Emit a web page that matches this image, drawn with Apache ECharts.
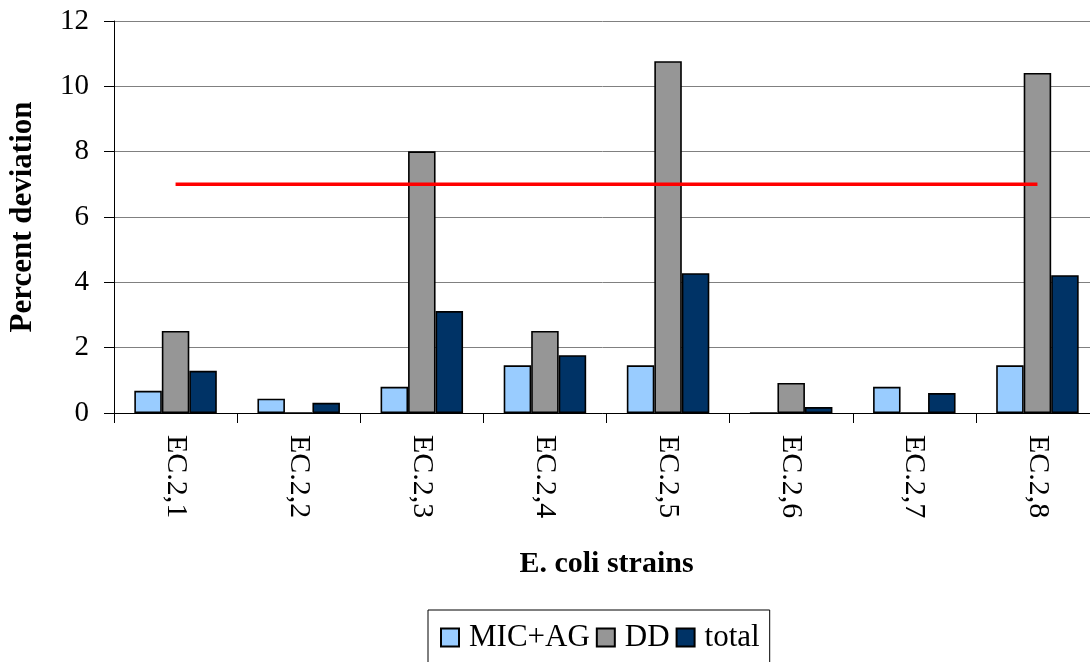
<!DOCTYPE html>
<html>
<head>
<meta charset="utf-8">
<script src="https://cdn.jsdelivr.net/npm/echarts@6/dist/echarts.min.js"></script>
<style>html,body{margin:0;padding:0;background:#fff;}#c{width:1090px;height:662px;}</style>
</head>
<body>
<div id="c"></div>
<script>
const categories = ['EC.2,1','EC.2,2','EC.2,3','EC.2,4','EC.2,5','EC.2,6','EC.2,7','EC.2,8'];
const micAg = [0.68, 0.44, 0.80, 1.46, 1.46, 0, 0.80, 1.46];
const dd = [2.51, 0, 8.01, 2.51, 10.77, 0.92, 0, 10.41];
const total = [1.29, 0.31, 3.12, 1.77, 4.28, 0.18, 0.61, 4.22];
const threshold = [7, 7, 7, 7, 7, 7, 7, 7];
const seriesNames = ['MIC+AG', 'DD', 'total'];

const font = "'Liberation Serif', 'Times New Roman', serif";
const chart = echarts.init(document.getElementById('c'));
const barStyle = (c) => ({ color: c, borderColor: '#000', borderWidth: 1.6 });
chart.setOption({
  animation: false,
  textStyle: { fontFamily: font, color: '#000' },
  grid: { left: 114, top: 21, width: 985, height: 392, outerBoundsMode: 'none', containLabel: false },
  legend: {
    data: seriesNames,
    left: 428, top: 610,
    padding: [12, 10, 24, 12],
    itemWidth: 18, itemHeight: 18, itemGap: 6,
    borderColor: '#000', borderWidth: 1,
    icon: 'rect',
    textStyle: { fontFamily: font, fontSize: 31, color: '#000', padding: [0, 0, 0, 5] }
  },
  xAxis: {
    type: 'category',
    data: categories,
    name: 'E. coli strains',
    nameLocation: 'middle',
    nameGap: 136,
    nameTextStyle: { fontFamily: font, fontSize: 30, fontWeight: 'bold', color: '#000' },
    axisLine: { lineStyle: { color: '#000', width: 1 } },
    axisTick: { show: true, length: 10, lineStyle: { color: '#000' } },
    axisLabel: { rotate: -90, margin: 22, fontFamily: font, fontSize: 30, color: '#000' }
  },
  yAxis: {
    type: 'value',
    min: 0, max: 12, interval: 2,
    name: 'Percent deviation',
    nameLocation: 'middle',
    nameGap: 76,
    nameTextStyle: { fontFamily: font, fontSize: 31, fontWeight: 'bold', color: '#000' },
    axisLine: { show: true, lineStyle: { color: '#000', width: 1 } },
    axisTick: { show: true, length: 10, lineStyle: { color: '#000' } },
    axisLabel: { margin: 25, fontFamily: font, fontSize: 29, color: '#000' },
    splitLine: { show: true, lineStyle: { color: '#808080', width: 1 } }
  },
  series: [
    { name: seriesNames[0], type: 'bar', data: micAg, barGap: '0%', barCategoryGap: '33%', itemStyle: barStyle('#99CCFF') },
    { name: seriesNames[1], type: 'bar', data: dd, itemStyle: barStyle('#969696') },
    { name: seriesNames[2], type: 'bar', data: total, itemStyle: barStyle('#003366') },
    { name: 'threshold', type: 'line', data: threshold, symbol: 'none', z: 5,
      lineStyle: { color: '#FF0000', width: 3.5 }, itemStyle: { color: '#FF0000' } }
  ]
});
</script>
</body>
</html>
